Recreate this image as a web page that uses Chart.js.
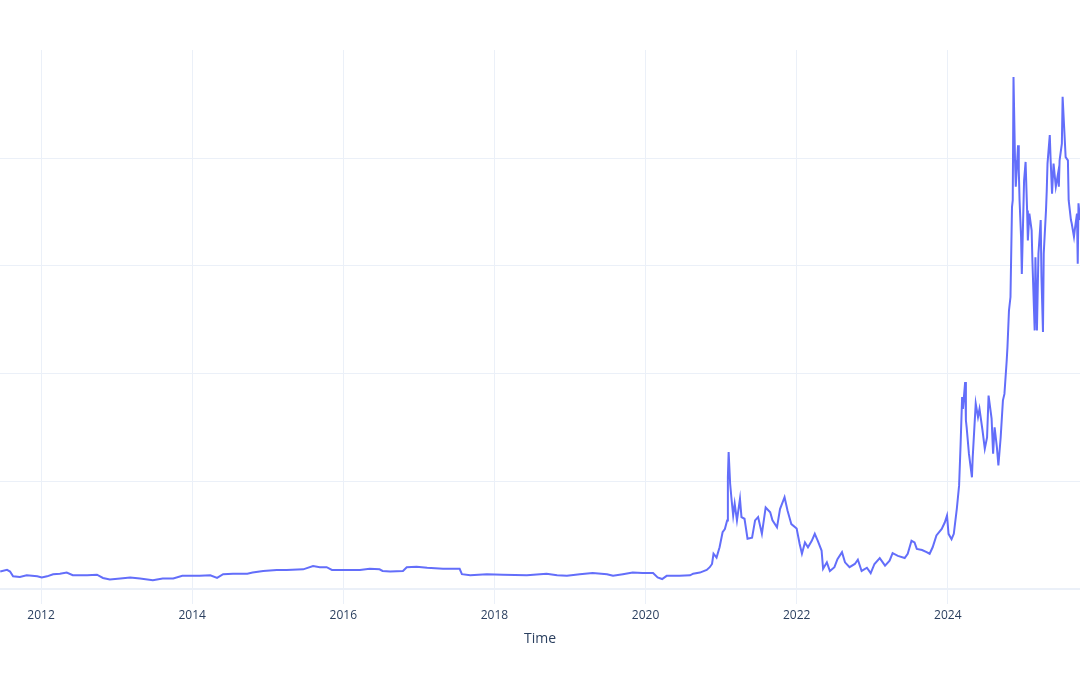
<!DOCTYPE html>
<html>
<head>
<meta charset="utf-8">
<script src="https://cdn.jsdelivr.net/npm/chart.js@4"></script>
<style>
  body { margin: 0; background: #fff; }
  #wrap { width: 1080px; height: 675px; position: relative; }
</style>
</head>
<body>
<div id="wrap"><canvas id="priceChart"></canvas></div>
<script>
// time as decimal years (gridlines every 20 units)
const years = [
  2011.46, 2011.55, 2011.59, 2011.63, 2011.72, 2011.81, 2011.88, 2011.95, 2012.01, 2012.08,
  2012.16, 2012.25, 2012.34, 2012.42, 2012.52, 2012.61, 2012.74, 2012.82, 2012.91, 2013.05,
  2013.18, 2013.31, 2013.48, 2013.61, 2013.75, 2013.87, 2014.10, 2014.24, 2014.33, 2014.41,
  2014.54, 2014.73, 2014.80, 2014.94, 2015.12, 2015.25, 2015.47, 2015.60, 2015.69, 2015.78,
  2015.85, 2015.96, 2016.09, 2016.22, 2016.35, 2016.48, 2016.52, 2016.62, 2016.79, 2016.84,
  2016.97, 2017.11, 2017.32, 2017.54, 2017.57, 2017.68, 2017.90, 2018.11, 2018.43, 2018.69,
  2018.83, 2018.96, 2019.13, 2019.30, 2019.49, 2019.57, 2019.70, 2019.83, 2019.96, 2020.10,
  2020.16, 2020.22, 2020.28, 2020.45, 2020.59, 2020.63, 2020.72, 2020.81, 2020.85, 2020.88,
  2020.90, 2020.94, 2020.98, 2021.02, 2021.05, 2021.08, 2021.09, 2021.10, 2021.12, 2021.14,
  2021.16, 2021.18, 2021.21, 2021.25, 2021.27, 2021.31, 2021.35, 2021.41, 2021.45, 2021.49,
  2021.54, 2021.59, 2021.65, 2021.68, 2021.74, 2021.78, 2021.84, 2021.88, 2021.93, 2022.00,
  2022.04, 2022.07, 2022.11, 2022.15, 2022.20, 2022.24, 2022.28, 2022.33, 2022.35, 2022.40,
  2022.44, 2022.50, 2022.54, 2022.60, 2022.64, 2022.70, 2022.77, 2022.81, 2022.86, 2022.93,
  2022.98, 2023.03, 2023.10, 2023.17, 2023.23, 2023.27, 2023.34, 2023.43, 2023.47, 2023.52,
  2023.56, 2023.59, 2023.66, 2023.72, 2023.76, 2023.80, 2023.85, 2023.92, 2023.96, 2023.99,
  2024.01, 2024.05, 2024.08, 2024.12, 2024.15, 2024.17, 2024.19, 2024.20, 2024.23, 2024.24,
  2024.25, 2024.28, 2024.32, 2024.33, 2024.37, 2024.40, 2024.42, 2024.46, 2024.49, 2024.52,
  2024.54, 2024.58, 2024.60, 2024.62, 2024.65, 2024.67, 2024.70, 2024.73, 2024.75, 2024.78,
  2024.79, 2024.81, 2024.83, 2024.85, 2024.86, 2024.87, 2024.89, 2024.90, 2024.93, 2024.94,
  2024.95, 2024.97, 2024.98, 2025.01, 2025.03, 2025.05, 2025.06, 2025.08, 2025.11, 2025.12,
  2025.15, 2025.16, 2025.18, 2025.20, 2025.23, 2025.24, 2025.26, 2025.27, 2025.30, 2025.31,
  2025.32, 2025.35, 2025.36, 2025.38, 2025.40, 2025.43, 2025.46, 2025.47, 2025.48, 2025.51,
  2025.52, 2025.54, 2025.56, 2025.59, 2025.60, 2025.63, 2025.64, 2025.67, 2025.68, 2025.71,
  2025.72, 2025.73, 2025.75, 2025.78
];
const values = [
  3.2, 3.5, 3.2, 2.3, 2.2, 2.5, 2.4, 2.3, 2.1, 2.3,
  2.7, 2.8, 3.0, 2.5, 2.5, 2.5, 2.6, 2.0, 1.7, 1.9,
  2.1, 1.9, 1.6, 1.9, 1.9, 2.4, 2.4, 2.5, 2.0, 2.7,
  2.8, 2.8, 3.0, 3.3, 3.5, 3.5, 3.6, 4.2, 4.0, 4.0,
  3.5, 3.5, 3.5, 3.5, 3.7, 3.6, 3.3, 3.2, 3.3, 4.0,
  4.1, 3.9, 3.7, 3.7, 2.7, 2.5, 2.7, 2.6, 2.5, 2.8,
  2.5, 2.4, 2.7, 2.9, 2.7, 2.4, 2.7, 3.0, 2.9, 2.9,
  2.1, 1.8, 2.4, 2.4, 2.5, 2.8, 3.0, 3.5, 4.0, 4.6,
  6.5, 5.8, 7.7, 10.5, 11.1, 12.7, 20.7, 25.4, 19.5, 16.4,
  13.6, 15.8, 12.7, 16.7, 13.3, 13.0, 9.3, 9.5, 12.7, 13.3,
  10.2, 15.1, 14.2, 12.7, 11.4, 14.8, 17.0, 14.5, 12.0, 11.2,
  8.3, 6.5, 8.6, 7.7, 8.9, 10.2, 8.9, 7.1, 3.7, 4.9,
  3.3, 4.0, 5.5, 6.8, 4.9, 4.0, 4.6, 5.4, 3.3, 3.9,
  2.9, 4.6, 5.7, 4.3, 5.2, 6.6, 6.1, 5.7, 6.5, 8.9,
  8.6, 7.4, 7.2, 6.8, 6.5, 7.7, 9.9, 11.1, 12.3, 13.6,
  10.2, 9.2, 10.2, 14.9, 19.2, 26.9, 35.6, 33.4, 38.4, 31.3,
  30.0, 25.1, 20.7, 24.4, 34.4, 31.9, 33.4, 29.4, 26.0, 28.1,
  35.9, 31.6, 25.1, 30.0, 26.3, 22.9, 28.1, 35.0, 36.2, 42.4,
  44.9, 51.7, 54.2, 70.9, 72.2, 95.1, 79.6, 74.7, 82.4, 77.8,
  72.2, 65.4, 58.5, 75.9, 79.3, 70.3, 64.7, 69.7, 66.6, 61.0,
  48.0, 61.6, 48.0, 62.3, 68.5, 57.9, 47.7, 62.3, 70.3, 74.0,
  79.0, 84.3, 80.2, 73.4, 79.0, 74.7, 77.2, 74.7, 79.6, 82.7,
  91.4, 85.8, 80.2, 79.6, 72.2, 68.5, 67.9, 65.4, 66.6, 69.7,
  60.4, 71.6, 68.5, 66.0
];
const xTicks = [2012, 2014, 2016, 2018, 2020, 2022, 2024];
const yTicks = [0, 20, 40, 60, 80];

const points = years.map((t, i) => ({ x: t, y: values[i] }));
const gridColor = '#EBF0F8';
const textColor = '#2a3f5f';

const ctx = document.getElementById('priceChart').getContext('2d');
const priceChart = new Chart(ctx, {
  type: 'line',
  data: {
    datasets: [{
      data: points,
      borderColor: '#636efa',
      borderWidth: 2,
      pointRadius: 0,
      tension: 0,
      fill: false
    }]
  },
  options: {
    responsive: true,
    maintainAspectRatio: false,
    animation: false,
    layout: { padding: { top: 50, left: 0, right: 0, bottom: 22 } },
    plugins: { legend: { display: false }, tooltip: { enabled: false } },
    scales: {
      x: {
        type: 'linear',
        min: 2011.457,
        max: 2025.75,
        afterBuildTicks: (axis) => { axis.ticks = xTicks.map(v => ({ value: v })); },
        ticks: {
          callback: (v) => String(v),
          color: textColor,
          font: { family: 'Open Sans', size: 12 },
          padding: 5,
          maxRotation: 0,
          autoSkip: false
        },
        grid: { color: gridColor, drawTicks: false },
        border: { display: false },
        title: {
          display: true,
          text: 'Time',
          color: textColor,
          font: { family: 'Open Sans', size: 14 },
          padding: { top: 2, bottom: 6 }
        }
      },
      y: {
        min: -2.8,
        max: 100.1,
        afterBuildTicks: (axis) => { axis.ticks = yTicks.map(v => ({ value: v })); },
        ticks: { display: false },
        grid: {
          color: gridColor,
          drawTicks: false,
          lineWidth: (c) => (c.tick && c.tick.value === 0 ? 2 : 1)
        },
        border: { display: false }
      }
    }
  }
});
</script>
</body>
</html>
